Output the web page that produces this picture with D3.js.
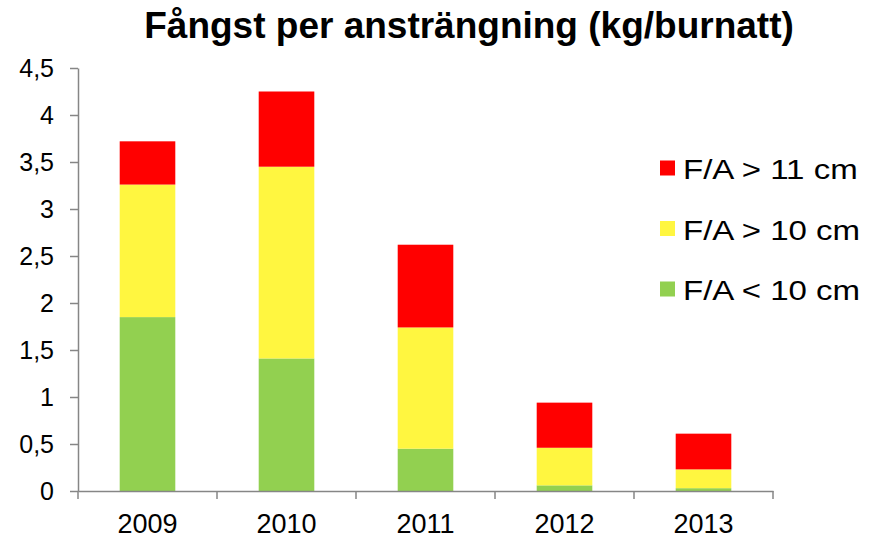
<!DOCTYPE html>
<html>
<head>
<meta charset="utf-8">
<script src="https://cdn.jsdelivr.net/npm/d3@7"></script>
<style>
  body { margin: 0; background: #fff; }
  svg { display: block; font-family: "Liberation Sans", Arial, sans-serif; }
</style>
</head>
<body>
<div id="chart"></div>
<script>
// stapeldiagram, fångst per ansträngning

const years = ["2009", "2010", "2011", "2012", "2013"];
const seriesNames = ["F/A < 10 cm", "F/A > 10 cm", "F/A > 11 cm"];
const under10 = [1.85, 1.41, 0.45, 0.06, 0.03];
const over10 = [1.41, 2.04, 1.29, 0.40, 0.20];
const over11 = [0.46, 0.80, 0.88, 0.48, 0.38];
const yTicks = [0, 0.5, 1, 1.5, 2, 2.5, 3, 3.5, 4, 4.5];
const colors = ["#92D050", "#FFF640", "#FF0000"];

const width = 872, height = 538;
const margin = { left: 78, right: 99, top: 68, bottom: 47 };

const svg = d3.select("#chart").append("svg")
    .attr("width", width)
    .attr("height", height);

const x = d3.scaleBand()
    .domain(years)
    .range([margin.left, width - margin.right])
    .padding(0);

const y = d3.scaleLinear()
    .domain([0, 4.5])
    .range([height - margin.bottom, margin.top]);

const rows = years.map((yr, i) => ({ year: yr, a: under10[i], b: over10[i], c: over11[i] }));
const stacked = d3.stack().keys(["a", "b", "c"])(rows);

const barW = x.bandwidth() * 0.4;

svg.append("g").selectAll("g")
    .data(stacked)
    .join("g")
    .attr("fill", (d, i) => colors[i])
    .selectAll("rect")
    .data(d => d)
    .join("rect")
    .attr("x", d => x(d.data.year) + (x.bandwidth() - barW) / 2)
    .attr("width", barW)
    .attr("y", d => y(d[1]))
    .attr("height", d => y(d[0]) - y(d[1]));

// y-axel
const yAxis = svg.append("g")
    .attr("transform", `translate(${margin.left},0)`)
    .call(d3.axisLeft(y).tickValues(yTicks).tickSize(8).tickSizeOuter(0)
        .tickFormat(d => String(d).replace(".", ",")));
yAxis.select(".domain").attr("stroke", "#868686").attr("stroke-width", 1.5);
yAxis.selectAll(".tick line").attr("stroke", "#868686").attr("stroke-width", 1.5);
yAxis.selectAll(".tick text")
    .attr("x", -24)
    .attr("fill", "#000")
    .style("font-size", "25px")
    .style("font-family", "Liberation Sans, Arial, sans-serif");

// x-axel
const xAxis = svg.append("g")
    .attr("transform", `translate(0,${y(0)})`)
    .call(d3.axisBottom(x).tickSize(0).tickSizeOuter(0));
xAxis.select(".domain").attr("stroke", "#868686").attr("stroke-width", 1.5);
xAxis.selectAll(".tick text")
    .attr("y", 42)
    .attr("dy", "0")
    .attr("fill", "#000")
    .style("font-size", "27px")
    .style("font-family", "Liberation Sans, Arial, sans-serif");

// streck mellan kategorierna
const bounds = years.map(d => x(d)).concat([x(years[years.length - 1]) + x.bandwidth()]);
svg.append("g").selectAll("line")
    .data(bounds)
    .join("line")
    .attr("x1", d => d).attr("x2", d => d)
    .attr("y1", y(0)).attr("y2", y(0) + 8)
    .attr("stroke", "#868686")
    .attr("stroke-width", 1.5);

// titel
svg.append("text")
    .attr("x", 469)
    .attr("y", 38)
    .attr("text-anchor", "middle")
    .style("font-size", "37px")
    .style("font-weight", "bold")
    .text("Fångst per ansträngning (kg/burnatt)");

// legend, översta raden är F/A > 11 cm
const legendItems = seriesNames.map((n, i) => ({ name: n, color: colors[i] })).reverse();
const legend = svg.append("g").selectAll("g")
    .data(legendItems)
    .join("g")
    .attr("transform", (d, i) => `translate(660,${168 + i * 60.5})`);
legend.append("rect")
    .attr("x", 0).attr("y", -7.5)
    .attr("width", 15).attr("height", 15)
    .attr("fill", d => d.color);
legend.append("text")
    .attr("transform", "translate(23,11) scale(1.18,1)")
    .style("font-size", "28px")
    .text(d => d.name);
</script>
</body>
</html>
